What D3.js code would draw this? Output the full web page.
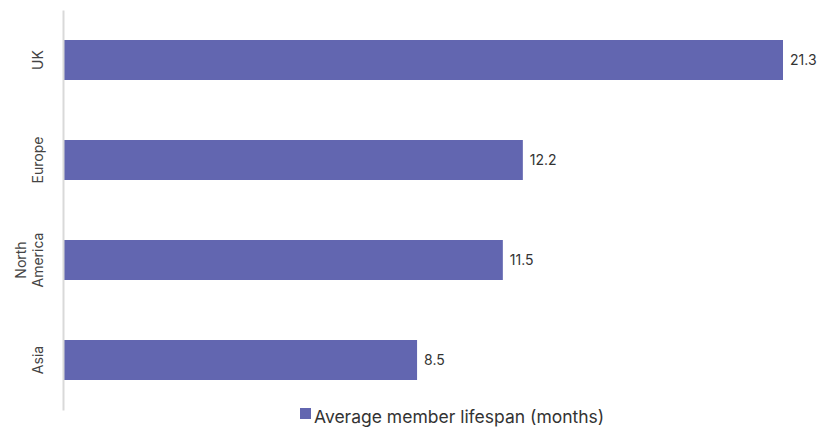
<!DOCTYPE html>
<html>
<head>
<meta charset="utf-8">
<script src="https://cdn.jsdelivr.net/npm/d3@7"></script>
<style>
  html, body { margin: 0; padding: 0; background: #fff; }
  svg { display: block; font-family: Inter, "Open Sans", sans-serif; }
</style>
</head>
<body>
<svg id="chart" width="827" height="428"></svg>
<script>
// Average member lifespan by region, in months
const regions = ["UK", "Europe", "North America", "Asia"];
const lifespanMonths = [21.3, 12.2, 11.5, 8.5];
const seriesName = "Average member lifespan (months)";
const axisStart = -3.85;

const svg = d3.select("#chart");
const barColor = "#6266b0";

const y = d3.scaleBand()
  .domain(regions)
  .range([10, 410])
  .paddingInner(0.6)
  .paddingOuter(0.3);

const x = d3.scaleLinear()
  .domain([axisStart, d3.max(lifespanMonths)])
  .range([64, 783]);

const data = regions.map((r, i) => ({ region: r, value: lifespanMonths[i] }));

// bars
svg.append("g").selectAll("rect")
  .data(data)
  .join("rect")
  .attr("x", x(axisStart))
  .attr("y", d => y(d.region))
  .attr("width", d => x(d.value) - x(axisStart))
  .attr("height", y.bandwidth())
  .attr("fill", barColor);

// value labels
svg.append("g").selectAll("text")
  .data(data)
  .join("text")
  .attr("x", d => x(d.value) + 7)
  .attr("y", d => y(d.region) + y.bandwidth() / 2)
  .attr("dy", "0.35em")
  .attr("font-size", 14)
  .attr("fill", "#333")
  .text(d => d.value.toFixed(1));

// category axis
const yAxis = d3.axisLeft(y).tickSize(0).tickPadding(0);
const gAxis = svg.append("g")
  .attr("transform", `translate(${x(axisStart) - 1},0)`)
  .call(yAxis);
gAxis.select(".domain").attr("stroke", "#d9d9d9").attr("stroke-width", 2);
gAxis.selectAll(".tick text").remove();

// rotated category labels, wrapped onto two lines where needed
const tickLabels = svg.append("g").selectAll("text")
  .data(regions)
  .join("text")
  .attr("transform", d => `translate(38,${y(d) + y.bandwidth() / 2}) rotate(-90)`)
  .attr("text-anchor", "middle")
  .attr("font-size", 14)
  .attr("fill", "#444");

tickLabels.each(function(d) {
  const words = d.split(" ");
  const t = d3.select(this);
  const n = words.length;
  words.forEach((w, i) => {
    t.append("tspan")
      .attr("x", 0)
      .attr("y", (i - (n - 1)) * 17)
      .attr("dy", "0.35em")
      .text(w);
  });
});

// legend
const legend = svg.append("g").attr("transform", "translate(300,408)");
legend.append("rect")
  .attr("width", 11).attr("height", 11)
  .attr("fill", barColor);
legend.append("text")
  .attr("x", 14).attr("y", 15)
  .attr("font-size", 17.5)
  .attr("fill", "#333")
  .text(seriesName);
</script>
</body>
</html>
